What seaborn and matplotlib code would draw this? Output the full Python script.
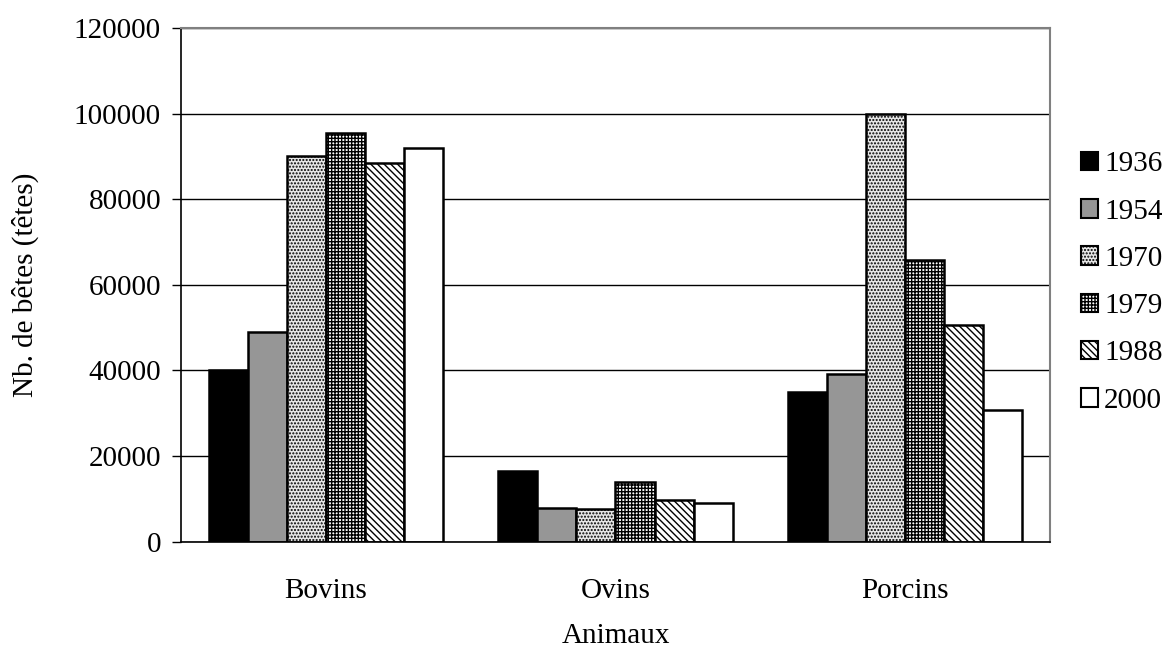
import seaborn as sns
import pandas as pd
import matplotlib.pyplot as plt
from matplotlib.patches import Patch

# values
animaux = ['Bovins', 'Ovins', 'Porcins']
annees = ['1936', '1954', '1970', '1979', '1988', '2000']
bovins = [40000, 49000, 90000, 95500, 88500, 92000]
ovins = [16500, 7900, 7700, 14000, 9800, 9100]
porcins = [35000, 39200, 100000, 65800, 50600, 30800]

rows = []
for anim, vals in zip(animaux, [bovins, ovins, porcins]):
    for an, v in zip(annees, vals):
        rows.append({'Animaux': anim, 'Annee': an, 'Tetes': v})
df = pd.DataFrame(rows)

sns.set_style('white')
plt.rcParams['font.family'] = ['Liberation Serif', 'DejaVu Serif']
plt.rcParams['text.color'] = 'black'
plt.rcParams['axes.labelcolor'] = 'black'
plt.rcParams['xtick.color'] = 'black'
plt.rcParams['ytick.color'] = 'black'
plt.rcParams['hatch.linewidth'] = 1.0

fig = plt.figure(figsize=(11.69, 6.48), dpi=100)
ax = fig.add_axes([0.155, 0.164, 0.743, 0.793])

faces = ['black', '#969696', '#e6e6e6', 'white', 'white', 'white']
hatches = ['', '', '.....', '+++++', '\\\\\\\\\\', '']

sns.barplot(data=df, x='Animaux', y='Tetes', hue='Annee', ax=ax,
            width=0.81, legend=False, edgecolor='black', linewidth=1.8,
            saturation=1, palette=faces)

for cont, fc, h in zip(ax.containers, faces, hatches):
    for bar in cont:
        bar.set_facecolor(fc)
        bar.set_hatch(h)
        bar.set_edgecolor('black')

ax.set_ylim(0, 120000)
ax.set_xlim(-0.5, 2.5)
ax.set_yticks(range(0, 120001, 20000))
ax.yaxis.grid(True, color='black', linewidth=1)
ax.set_axisbelow(True)
ax.set_xticks([0, 1, 2])
ax.set_xticklabels(animaux)
ax.set_xticks([-0.5, 0.5, 1.5, 2.5], minor=True)
ax.tick_params(axis='x', which='major', length=0, labelsize=21, pad=26)
ax.tick_params(axis='x', which='minor', length=6.5, width=1, color='black', direction='out')
ax.tick_params(axis='y', length=6.5, width=1, color='black', direction='out', labelsize=21, left=True, pad=8)

for s in ['top', 'right']:
    ax.spines[s].set_color('#808080')
    ax.spines[s].set_linewidth(1.5)
for s in ['left', 'bottom']:
    ax.spines[s].set_color('black')
    ax.spines[s].set_linewidth(1.2)

ax.set_xlabel('Animaux', fontsize=21, labelpad=14)
ax.set_ylabel('Nb. de bêtes (têtes)', fontsize=21, labelpad=25)

handles = [Patch(facecolor=fc, hatch=h, edgecolor='black', linewidth=1.5)
           for fc, h in zip(faces, hatches)]
fig.legend(handles, annees, loc='upper left', bbox_to_anchor=(0.912, 0.789),
           frameon=False, fontsize=21, handlelength=0.6, handleheight=0.6,
           handletextpad=0.2, labelspacing=0.73, borderpad=0)

fig.savefig('out.png', dpi=100)
